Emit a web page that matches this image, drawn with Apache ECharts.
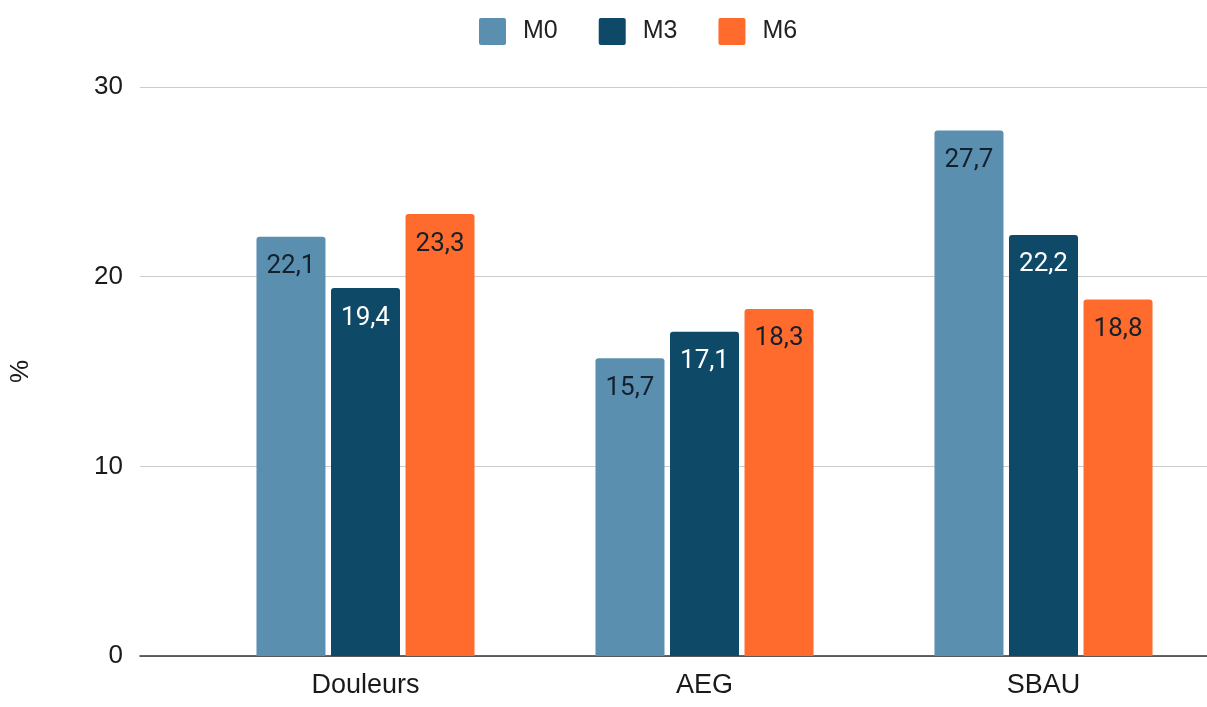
<!DOCTYPE html>
<html>
<head>
<meta charset="utf-8">
<script src="https://cdn.jsdelivr.net/npm/echarts@6/dist/echarts.min.js"></script>
<style>
  html, body { margin: 0; padding: 0; background: #fff; }
  #chart { width: 1207px; height: 707px; }
</style>
</head>
<body>
<div id="chart"></div>
<script>
// Categories, series and axis ticks
const categories = ['Douleurs', 'AEG', 'SBAU'];
const seriesNames = ['M0', 'M3', 'M6'];
const m0 = [22.1, 15.7, 27.7];
const m3 = [19.4, 17.1, 22.2];
const m6 = [23.3, 18.3, 18.8];
const yTicks = [0, 10, 20, 30];

const colors = ['#5b8fb0', '#0e4a68', '#ff6b2c'];
const labelColors = ['#14202c', '#ffffff', '#14202c'];
const values = [m0, m3, m6];

const chart = echarts.init(document.getElementById('chart'), null, { renderer: 'canvas' });

const fmt = p => p.value.toFixed(1).replace('.', ',');
const sans = 'Liberation Sans, Arial, sans-serif';

chart.setOption({
  animation: false,
  backgroundColor: '#ffffff',
  legend: {
    top: 13,
    left: 474,
    itemWidth: 27,
    itemHeight: 27,
    itemGap: 41,
    icon: 'path://M2,0 L25,0 Q27,0 27,2 L27,25 Q27,27 25,27 L2,27 Q0,27 0,25 L0,2 Q0,0 2,0 Z',
    textStyle: {
      fontFamily: sans,
      fontSize: 25,
      color: '#222',
      padding: [0, 0, 0, 12]
    },
    data: seriesNames
  },
  grid: [
    // frame with gridlines and value labels
    { left: 140, right: 0, top: 87, bottom: 51, containLabel: false, outerBoundsMode: 'none' },
    // bar area
    { left: 196, width: 1017, top: 87, bottom: 51, containLabel: false, outerBoundsMode: 'none' }
  ],
  xAxis: [
    {
      gridIndex: 0,
      type: 'category',
      data: [''],
      axisLine: { show: true, lineStyle: { color: '#333', width: 1.5 } },
      axisTick: { show: false },
      axisLabel: { show: false }
    },
    {
      gridIndex: 1,
      type: 'category',
      data: categories,
      axisLine: { show: false },
      axisTick: { show: false },
      axisLabel: {
        margin: 16,
        fontFamily: sans,
        fontSize: 27,
        color: '#1a1a1a'
      }
    }
  ],
  yAxis: [
    {
      gridIndex: 0,
      type: 'value',
      min: yTicks[0],
      max: yTicks[yTicks.length - 1],
      interval: 10,
      name: '%',
      nameLocation: 'middle',
      nameGap: 106,
      nameRotate: 90,
      nameTextStyle: {
        fontFamily: sans,
        fontSize: 26,
        color: '#1a1a1a'
      },
      axisLine: { show: false },
      axisTick: { show: false },
      axisLabel: {
        margin: 17,
        fontFamily: sans,
        fontSize: 26,
        color: '#1a1a1a'
      },
      splitLine: { lineStyle: { color: '#cccccc', width: 1 } }
    },
    {
      gridIndex: 1,
      type: 'value',
      min: yTicks[0],
      max: yTicks[yTicks.length - 1],
      interval: 10,
      show: false,
      splitLine: { show: false }
    }
  ],
  series: seriesNames.map((name, i) => ({
    name,
    type: 'bar',
    xAxisIndex: 1,
    yAxisIndex: 1,
    data: values[i],
    barWidth: 69,
    barGap: '8%',
    itemStyle: { color: colors[i], borderRadius: [3, 3, 0, 0] },
    label: {
      show: true,
      position: 'insideTop',
      distance: 17,
      formatter: fmt,
      fontFamily: 'Roboto, sans-serif',
      fontSize: 26,
      color: labelColors[i]
    }
  }))
});
</script>
</body>
</html>
